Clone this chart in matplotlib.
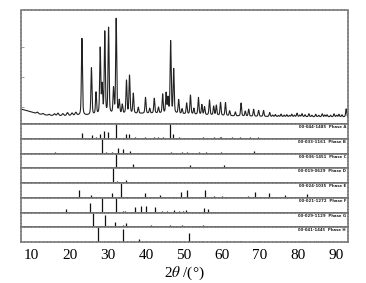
import numpy as np
import matplotlib
matplotlib.use("Agg")
import matplotlib.pyplot as plt

# ---------------- data ----------------
# main measured pattern: peak positions (2theta), heights (arb.), widths (deg)
main_pos = [6.0, 42.0,
            11.5, 13.0, 14.6, 16.0, 16.9, 18.2, 19.4, 20.6, 21.6,
            23.2, 25.7, 26.9, 28.0, 28.5, 29.2, 30.2, 31.5, 32.2, 33.0, 33.8,
            34.9, 35.7, 36.7, 38.0, 39.9, 41.0, 42.2, 43.3, 44.4, 45.3, 45.8,
            46.5, 47.3, 48.6, 49.5, 50.7, 51.7, 52.6, 53.8, 54.7, 55.4, 56.7,
            57.8, 58.5, 59.6, 60.9, 62.0, 63.5, 65.0, 66.1, 67.0, 68.3, 69.6,
            70.9, 72.5, 73.3, 74.0, 74.8, 75.5, 76.3, 77.0, 77.7, 78.3, 79.0,
            79.7, 80.4, 81.0, 81.8, 82.8, 83.6, 84.6, 85.4, 86.3, 87.0, 87.6,
            88.5, 89.4, 90.1, 90.7, 91.5, 92.6]
main_int = [8.0, 3.5,
            1.5, 1.2, 1.0, 1.8, 2.5, 2.0, 3.0, 2.5, 3.0,
            77, 47, 22, 66, 28, 82, 86, 25, 95, 13, 9,
            33, 38, 20, 6, 16, 5, 15, 6, 19, 20, 15,
            72, 44, 14, 5, 11, 19, 6, 17, 10, 8, 15,
            9, 10, 13, 13, 5, 4, 13, 5, 7, 7, 6,
            6, 4, 1.5, 2, 1.2, 2.5, 1.5, 2, 1.2, 2.5, 1.5,
            3.5, 1.5, 3, 2, 3, 1.5, 2.5, 1.5, 3, 1.8, 2,
            1.5, 3, 1.5, 2.5, 2, 8]
main_wid = [9.0, 30.0] + [0.5] * 9 + [0.32] * 83

# reference stick patterns (position, relative intensity), top to bottom
ref_pos = [
    [23.2, 25.8, 26.9, 28.0, 29.0, 30.1, 32.1, 34.8, 35.6, 37.2, 39.8, 42.0,
     43.2, 44.5, 46.2, 47.1, 48.6, 50.5, 53.4, 54.9, 56.0, 57.8, 59.4, 59.8,
     60.8, 62.6, 64.8, 66.3, 67.4, 68.3, 69.4, 70.5, 71.8, 73.1],
    [16.1, 28.4, 29.6, 31.1, 32.8, 34.1, 35.9, 39.8, 46.5, 47.8, 49.6, 50.9,
     54.0, 55.7, 57.5, 59.6, 61.3, 63.0, 64.8, 68.3, 71.8, 73.5],
    [32.1, 36.7, 51.6, 60.6, 63.9, 82.3, 84.4],
    [31.3, 32.5, 34.8, 37.6, 40.3, 47.7, 53.0, 54.7, 58.2, 61.0, 67.0],
    [22.5, 25.6, 31.1, 33.5, 37.2, 39.8, 43.8, 49.3, 50.8, 55.4, 57.8, 60.0,
     66.8, 68.7, 72.3, 76.5, 82.4],
    [19.0, 25.2, 28.4, 32.1, 34.1, 34.6, 37.1, 38.8, 40.0, 42.4, 44.2, 45.5,
     47.4, 48.8, 49.7, 50.6, 55.2, 56.2],
    [20.1, 24.0, 26.0, 29.3, 31.9, 34.1, 34.8, 36.7, 38.9, 41.4, 46.4, 47.0,
     49.5, 53.5, 54.3, 55.0, 56.0, 59.2, 61.8, 64.4, 67.6, 73.1, 75.3, 76.6,
     78.3],
    [27.3, 33.9, 38.3, 51.2, 54.7, 57.4, 61.3, 63.1, 64.8, 69.6, 77.1, 81.5,
     84.6, 86.0, 88.0],
]
ref_int = [
    [0.40, 0.25, 0.15, 0.30, 0.50, 0.45, 1.00, 0.30, 0.30, 0.10, 0.10, 0.10,
     0.10, 0.15, 1.00, 0.30, 0.10, 0.05, 0.08, 0.10, 0.08, 0.10, 0.15, 0.10,
     0.08, 0.10, 0.12, 0.08, 0.10, 0.08, 0.10, 0.08, 0.06, 0.05],
    [0.10, 1.00, 0.10, 0.10, 0.35, 0.30, 0.15, 0.05, 0.08, 0.06, 0.08, 0.10,
     0.12, 0.08, 0.06, 0.08, 0.06, 0.06, 0.06, 0.15, 0.05, 0.05],
    [1.00, 0.30, 0.20, 0.25, 0.08, 0.08, 0.05],
    [1.00, 0.15, 0.20, 0.05, 0.05, 0.10, 0.10, 0.10, 0.05, 0.05, 0.05],
    [0.55, 0.20, 0.35, 1.00, 0.05, 0.35, 0.20, 0.40, 0.50, 0.50, 0.10, 0.15,
     0.10, 0.40, 0.35, 0.20, 0.25],
    [0.25, 0.65, 1.00, 1.00, 0.10, 0.10, 0.40, 0.45, 0.45, 0.40, 0.10, 0.10,
     0.20, 0.10, 0.10, 0.20, 0.30, 0.25],
    [0.05, 0.10, 1.00, 0.80, 0.35, 0.15, 0.30, 0.05, 0.05, 0.15, 0.15, 0.10,
     0.15, 0.08, 0.10, 0.12, 0.08, 0.06, 0.05, 0.06, 0.05, 0.05, 0.05, 0.05,
     0.05],
    [1.00, 0.85, 0.20, 0.60, 0.05, 0.08, 0.10, 0.10, 0.08, 0.05, 0.10, 0.05,
     0.05, 0.05, 0.05],
]
ref_labels = ["00-044-1485  Phase A", "00-033-1161  Phase B",
              "00-036-1451  Phase C", "00-019-0629  Phase D",
              "00-024-1035  Phase E", "00-021-1272  Phase F",
              "00-029-1129  Phase G", "00-041-1445  Phase H"]

xticks = [10, 20, 30, 40, 50, 60, 70, 80, 90]
xlim = (7.2, 93.0)

# ---------------- figure ----------------
plt.rcParams['mathtext.fontset'] = 'stix'
W, H = 366, 283
fig = plt.figure(figsize=(W / 100, H / 100), dpi=100)

left, right = 21 / W, 347.7 / W
main_top, main_bot = 10, 124
stick_bot = 242
n = len(ref_pos)
ph = (stick_bot - main_bot) / n

border = dict(color='#6e6e6e', linewidth=1.1, linestyle=(0, (1.6, 0.9)))


def style(ax):
    for s in ax.spines.values():
        s.set(**border)
    ax.set_xlim(*xlim)


# main panel
ax = fig.add_axes([left, 1 - main_bot / H, right - left, (main_bot - main_top) / H])
x = np.linspace(xlim[0], xlim[1], 4000)
y = np.zeros_like(x)
for p, h, w in zip(main_pos, main_int, main_wid):
    g = np.exp(-4 * np.log(2) * ((x - p) / w) ** 2)
    lz = 1 / (1 + 4 * ((x - p) / w) ** 2)
    y += h * (0.6 * g + 0.4 * lz)
ax.plot(x, y, color='#222222', lw=0.8)
ax.set_ylim(-7, 107)
style(ax)
ax.set_xticks([])
ax.set_yticks([10, 40, 70])
ax.tick_params(axis='y', direction='in', length=2, width=0.5, labelleft=False,
               color='#777777')

# stick panels
for i in range(n):
    top = main_bot + i * ph
    a = fig.add_axes([left, 1 - (top + ph) / H, right - left, ph / H])
    a.vlines(ref_pos[i], 0, ref_int[i], color='#111111', lw=0.9)
    a.set_ylim(0, 1.0)
    style(a)
    a.set_yticks([])
    a.text(0.995, 0.93, ref_labels[i], transform=a.transAxes, ha='right',
           va='top', fontsize=2.8, color='#222222', fontweight='bold')
    if i < n - 1:
        a.set_xticks([])
    else:
        a.set_xticks(xticks)
        a.set_xticklabels([str(t) for t in xticks], fontfamily='Liberation Serif',
                          fontsize=11)
        a.tick_params(axis='x', length=0, pad=5)
        a.set_xlabel(r'2$\theta$ /(°)', fontfamily='Liberation Serif',
                     fontsize=11, labelpad=2)

fig.savefig('out.png', dpi=100)
